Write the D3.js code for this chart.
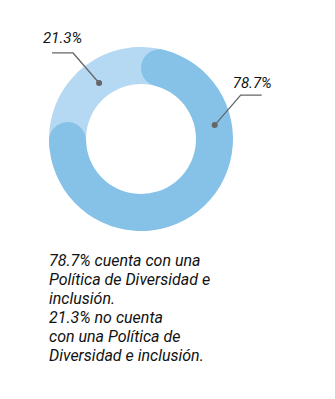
<!DOCTYPE html>
<html>
<head>
<meta charset="utf-8">
<script src="https://cdn.jsdelivr.net/npm/d3@7"></script>
<style>
  body { margin: 0; background: #fff; }
</style>
</head>
<body>
<div id="chart"></div>
<script>
// Donut: share of companies with a Diversity & Inclusion policy

const labels = ["78.7%", "21.3%"];
const values = [78.7, 21.3];
const colors = ["#86c2e7", "#b5d9f2"];
// where along each slice the leader dot sits (0..1 of the slice)
const dotPos = [0.28, 0.52];

const noteLines = [
  "78.7% cuenta con una",
  "Política de Diversidad e",
  "inclusión.",
  "21.3% no cuenta",
  "con una Política de",
  "Diversidad e inclusión."
];

const width = 335;
const height = 399;
const cx = 141, cy = 139;
const outerR = 92, innerR = 55;
const dotR = [75, 70];
const labelLift = [7.5, 10];

const svg = d3.select("#chart")
  .append("svg")
  .attr("width", width)
  .attr("height", height)
  .style("font-family", "Roboto, sans-serif");

const g = svg.append("g").attr("transform", `translate(${cx},${cy})`);

// --- PIE ---
const pie = d3.pie().sort(null).value(d => d);
const arcs = pie(values);

const arc = d3.arc().innerRadius(innerR).outerRadius(outerR);
const roundArc = d3.arc()
  .innerRadius(innerR)
  .outerRadius(outerR)
  .cornerRadius((outerR - innerR) / 2);

// light slice goes underneath and runs a bit under the rounded caps
const light = arcs[1];
const overlap = 0.35;
g.append("path")
  .attr("fill", colors[1])
  .attr("d", arc({ startAngle: light.startAngle - overlap, endAngle: light.endAngle + overlap }));

g.append("path")
  .attr("fill", colors[0])
  .attr("d", roundArc(arcs[0]));

// --- LEADERS + LABELS ---
function pointAt(a, r) {
  return [r * Math.sin(a), -r * Math.cos(a)];
}

arcs.forEach((d, i) => {
  const a = d.startAngle + (d.endAngle - d.startAngle) * dotPos[i];
  const [x0, y0] = pointAt(a, dotR[i]);
  const right = Math.sin(a) > 0;
  const x1 = x0 + (right ? 26 : -26);
  const y1 = y0 - 30;
  const x2 = x1 + (right ? 21 : -21);

  g.append("polyline")
    .attr("points", [[x0, y0], [x1, y1], [x2, y1]].map(p => p.join(",")).join(" "))
    .attr("fill", "none")
    .attr("stroke", "#666")
    .attr("stroke-width", 1.3);

  g.append("circle")
    .attr("cx", x0)
    .attr("cy", y0)
    .attr("r", 3)
    .attr("fill", "#666");

  g.append("text")
    .attr("x", right ? x1 - 8 : x2 - 9)
    .attr("y", y1 - labelLift[i])
    .style("font-size", "15px")
    .style("font-style", "italic")
    .style("fill", "#111")
    .text(labels[i]);
});

// --- NOTE ---
svg.append("text")
  .attr("x", 49)
  .attr("y", 266)
  .style("font-size", "16px")
  .style("font-style", "italic")
  .style("fill", "#111")
  .selectAll("tspan")
  .data(noteLines)
  .join("tspan")
  .attr("x", 49)
  .attr("dy", (d, i) => i ? 19 : 0)
  .text(d => d);
</script>
</body>
</html>
